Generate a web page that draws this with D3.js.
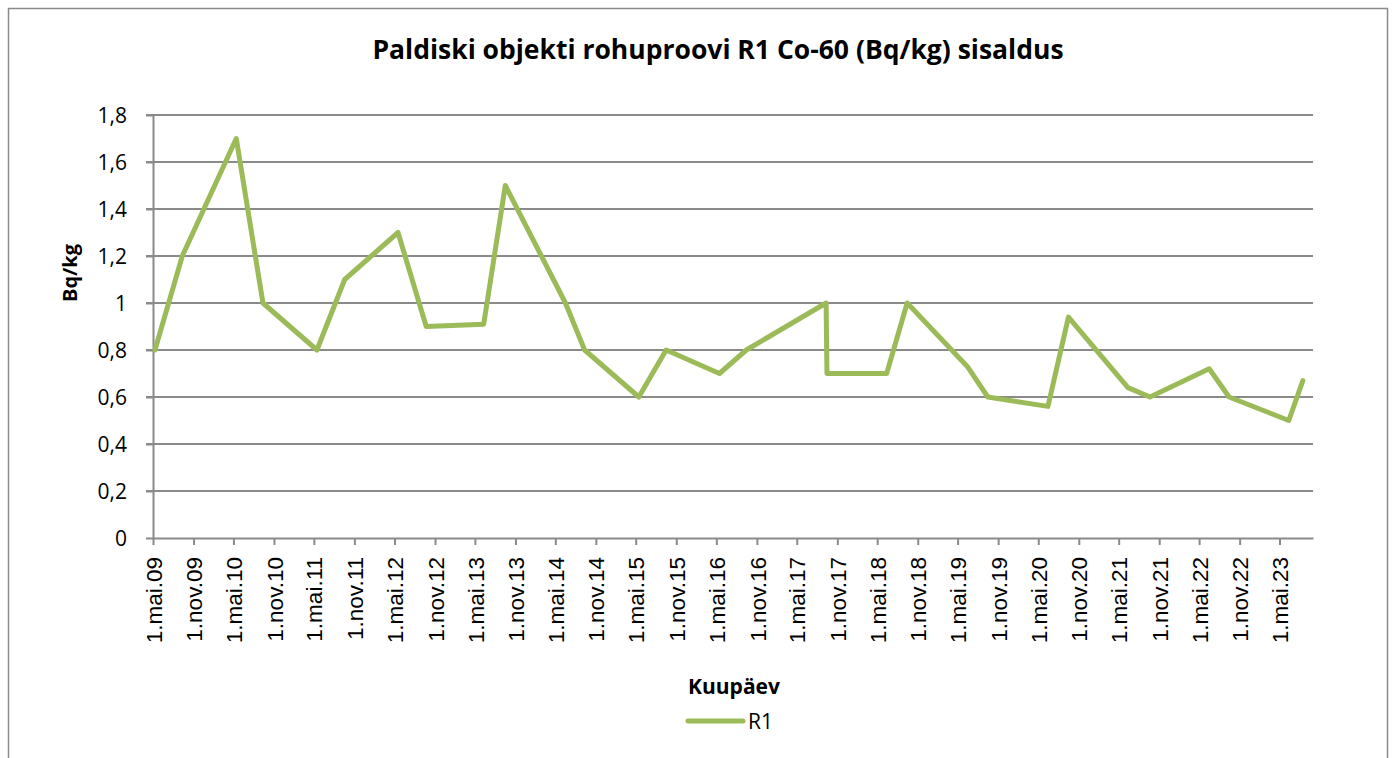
<!DOCTYPE html>
<html lang="et">
<head>
<meta charset="UTF-8">
<title>Paldiski objekti rohuproovi R1 Co-60 (Bq/kg) sisaldus</title>
<script src="https://d3js.org/d3.v7.min.js"></script>
<style>
  body { margin: 0; padding: 0; background: #fff; }
  svg { display: block; }
  .grid line { stroke: #8a8a8a; stroke-width: 2; }
  .axis path, .axis line { stroke: #8a8a8a; stroke-width: 2; }
  .ylab { font-family: "Open Sans", "Noto Sans", sans-serif; font-size: 21px; fill: #000; }
  .xlab { font-family: "Liberation Sans", Arial, sans-serif; font-size: 22.5px; fill: #000; }
</style>
</head>
<body>
<svg width="1392" height="758"></svg>
<script>
const width = 1392, height = 758;

// proovivõtu kuupäevad ja Co-60 sisaldus (Bq/kg)
const sampleDates = [
  "2009-05-10", "2009-09-11", "2010-05-14", "2010-09-12", "2011-05-15", "2011-09-18",
  "2012-05-17", "2012-09-22", "2013-06-10", "2013-09-16", "2014-06-16", "2014-09-11",
  "2015-05-15", "2015-09-16", "2016-05-15", "2016-09-14", "2017-09-11", "2017-09-15",
  "2018-06-13", "2018-09-14", "2019-06-14", "2019-09-15", "2020-06-14", "2020-09-15",
  "2021-06-12", "2021-09-20", "2022-06-16", "2022-09-14", "2023-06-12", "2023-08-15"
];
const r1Values = [
  0.8, 1.2, 1.7, 1.0, 0.8, 1.1,
  1.3, 0.9, 0.91, 1.5, 1.0, 0.8,
  0.6, 0.8, 0.7, 0.8, 1.0, 0.7,
  0.7, 1.0, 0.73, 0.6, 0.56, 0.94,
  0.64, 0.6, 0.72, 0.6, 0.5, 0.67
];
const yTicks = [0, 0.2, 0.4, 0.6, 0.8, 1, 1.2, 1.4, 1.6, 1.8];
const monthNames = ["jaan", "veebr", "märts", "apr", "mai", "juuni", "juuli", "aug", "sept", "okt", "nov", "dets"];
const axisStart = "2009-05-01", axisEnd = "2023-09-30";

const parse = d3.timeParse("%Y-%m-%d");
const data = sampleDates.map((d, i) => ({ date: parse(d), value: r1Values[i] }));

const plot = { left: 153, right: 1313, top: 115, bottom: 538 };

const svg = d3.select("svg");

// raam
svg.append("rect")
  .attr("x", 8.5).attr("y", 8.5)
  .attr("width", 1379).attr("height", 800)
  .attr("fill", "#fff")
  .attr("stroke", "#8a8a8a")
  .attr("stroke-width", 1.5);

const x = d3.scaleTime()
  .domain([parse(axisStart), parse(axisEnd)])
  .range([plot.left, plot.right]);

const y = d3.scaleLinear()
  .domain([0, 1.8])
  .range([plot.bottom, plot.top]);

const fmtY = d => d3.format(".1f")(d).replace(/\.0$/, "").replace(".", ",");
const fmtX = d => `${d.getDate()}.${monthNames[d.getMonth()]}.${d3.timeFormat("%y")(d)}`;

// ruudustik
svg.append("g")
  .attr("class", "grid")
  .selectAll("line")
  .data(yTicks.filter(d => d > 0))
  .join("line")
  .attr("x1", plot.left - 7).attr("x2", plot.right)
  .attr("y1", d => y(d)).attr("y2", d => y(d));

// y telg
const yAxis = svg.append("g")
  .attr("class", "axis")
  .attr("transform", `translate(${plot.left},0)`)
  .call(d3.axisLeft(y).tickValues(yTicks).tickSize(7).tickSizeOuter(0).tickFormat(fmtY));
yAxis.selectAll("text").attr("class", "ylab").attr("x", -26).attr("dy", "0.35em");

// x telg
const xTicks = d3.timeMonth.range(parse(axisStart), x.domain()[1], 6);
const xAxis = svg.append("g")
  .attr("class", "axis")
  .attr("transform", `translate(0,${plot.bottom})`)
  .call(d3.axisBottom(x).tickValues(xTicks).tickSize(7).tickSizeOuter(0).tickFormat(fmtX));
xAxis.selectAll("text")
  .attr("class", "xlab")
  .attr("transform", "rotate(-90)")
  .attr("text-anchor", "end")
  .attr("x", -19)
  .attr("y", 0)
  .attr("dy", "0.36em");

// joon
svg.append("path")
  .datum(data)
  .attr("fill", "none")
  .attr("stroke", "#9bbb59")
  .attr("stroke-width", 5)
  .attr("stroke-linejoin", "round")
  .attr("stroke-linecap", "round")
  .attr("d", d3.line().x(d => x(d.date)).y(d => y(d.value)));

// pealkirjad
svg.append("text")
  .attr("x", 718).attr("y", 59)
  .attr("text-anchor", "middle")
  .style("font-family", "'Open Sans', 'Noto Sans', sans-serif")
  .style("font-weight", "bold")
  .style("font-size", "26.5px")
  .text("Paldiski objekti rohuproovi R1 Co-60 (Bq/kg) sisaldus");

svg.append("text")
  .attr("transform", "translate(77,273) rotate(-90)")
  .attr("text-anchor", "middle")
  .style("font-family", "'Open Sans', 'Noto Sans', sans-serif")
  .style("font-weight", "bold")
  .style("font-size", "20px")
  .text("Bq/kg");

svg.append("text")
  .attr("x", 734).attr("y", 694)
  .attr("text-anchor", "middle")
  .style("font-family", "'Open Sans', 'Noto Sans', sans-serif")
  .style("font-weight", "bold")
  .style("font-size", "21px")
  .text("Kuupäev");

// legend
const legend = svg.append("g").attr("transform", "translate(688,721)");
legend.append("line")
  .attr("x1", 0).attr("x2", 55)
  .attr("stroke", "#9bbb59").attr("stroke-width", 5).attr("stroke-linecap", "round");
legend.append("text")
  .attr("x", 60).attr("y", 8)
  .style("font-family", "'Open Sans', 'Noto Sans', sans-serif")
  .style("font-size", "21px")
  .text("R1");
</script>
</body>
</html>
